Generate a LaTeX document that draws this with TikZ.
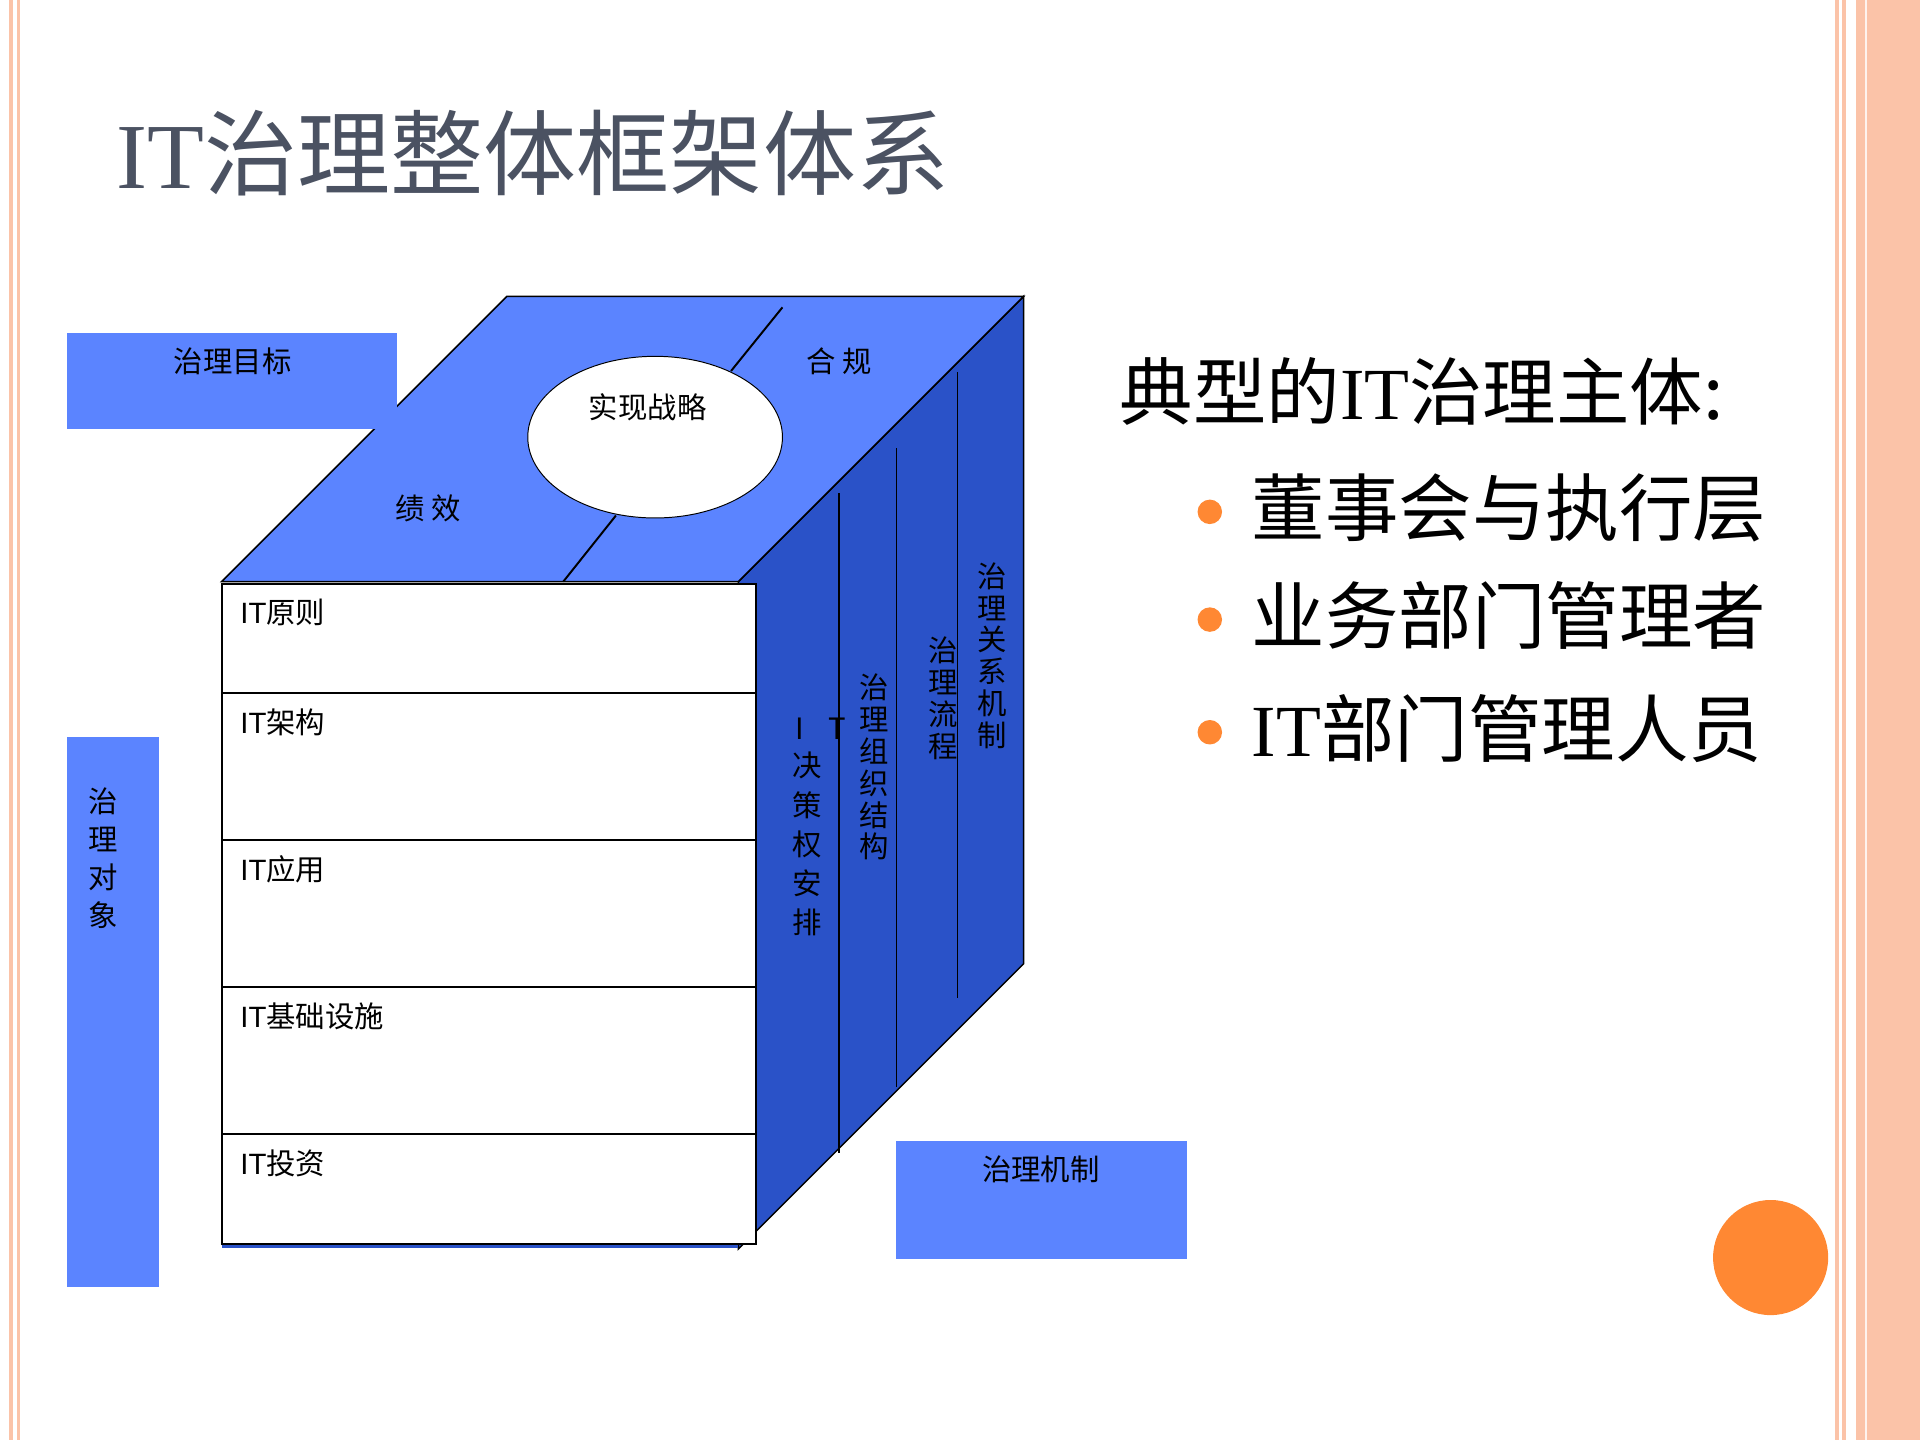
\documentclass[tikz,border=0pt]{standalone}
\usetikzlibrary{shapes.geometric}
\usepackage{fontspec}
\setmainfont{Liberation Serif}
\setsansfont{Liberation Sans}
\newfontfamily\cjk{Noto Sans CJK SC}
\definecolor{topblue}{HTML}{5B84FF}
\definecolor{sideblue}{HTML}{2A52C8}
\definecolor{peach}{HTML}{FBC3A8}
\definecolor{titlegray}{HTML}{4B5262}
\definecolor{orng}{HTML}{FF8833}
\tikzset{lbl/.style={font=\fontsize{12}{14}\selectfont\cjk, inner sep=0pt},
 big/.style={font=\fontsize{30}{34}\selectfont, inner sep=0pt, anchor=west},
 vtx/.style={font=\fontsize{12}{13}\selectfont\cjk, inner sep=0pt, align=center}}
\begin{document}
\begin{tikzpicture}[x=0.5pt,y=-0.5pt]
\useasboundingbox (0,0) rectangle (1568,1176);
\fill[white] (0,0) rectangle (1568,1176);
% borders
\draw[peach,line width=1.5pt] (9,0)--(9,1176) (15,0)--(15,1176);
\draw[peach,line width=1.5pt] (1500,0)--(1500,1176) (1506,0)--(1506,1176);
\fill[peach] (1516,0) rectangle (1568,1176);
\draw[white!80!peach,line width=1pt] (1524,0)--(1524,1176);
% title
\node[anchor=west,inner sep=0pt,text=titlegray,font=\fontsize{38}{40}\selectfont] (title) at (95,125) {IT{\cjk 治理整体框架体系}};
% cube
\fill[sideblue,draw=black,line width=0.6pt] (603,475)--(836,242)--(836,787)--(603,1020)--cycle;
\fill[topblue,draw=black,line width=0.6pt] (181,475)--(414,242)--(836,242)--(603,475)--cycle;
\draw[line width=0.8pt] (460,475)--(503,421) (597,303)--(639,251);
\node[ellipse,draw=black,fill=white,minimum width=104pt,minimum height=66pt,inner sep=0pt] (el) at (535,357) {};
\node[lbl] (s1) at (529,333) {实现战略};
\node[lbl] (s2) at (685,295) {合 规};
\node[lbl] (s3) at (350,415) {绩 效};
\draw[line width=0.6pt] (685,403)--(685,942) (732,366)--(732,888) (782,304)--(782,815);
\fill[white,draw=black,line width=0.8pt] (181,477) rectangle (617,1016);
\draw[sideblue,line width=1.2pt] (181,1018)--(603,1018);
\foreach \y in {566,686,806,926} \draw[line width=0.7pt] (181,\y)--(617,\y);
\foreach \t/\y/\n in {原则/500/r1,架构/590/r2,应用/710/r3,基础设施/830/r4,投资/950/r5}
  \node[anchor=west,inner sep=0pt,font=\fontsize{12}{14}\selectfont] (\n) at (196,\y) {\sffamily IT\cjk\t};
% vertical texts on side
\node[vtx] (va) at (653,595) {I};
\node[vtx] (vb) at (684,595) {T};
\node[vtx,anchor=north] (v1) at (659,614) {决\\[3pt]策\\[3pt]权\\[3pt]安\\[3pt]排};
\node[vtx,anchor=north] (v2) at (714,550) {治\\理\\组\\织\\结\\构};
\node[vtx,anchor=north] (v3) at (770,520) {治\\理\\流\\程};
\node[vtx,anchor=north] (v4) at (810,459) {治\\理\\关\\系\\机\\制};
% side boxes
\fill[topblue] (55,272) rectangle (324,350);
\node[lbl] (g1) at (190,295) {治理目标};
\fill[topblue] (55,602) rectangle (130,1051);
\node[vtx,anchor=north,font=\fontsize{12}{15.5}\selectfont\cjk] (g2) at (84,643) {治\\理\\对\\象};
\fill[topblue] (732,932) rectangle (969,1028);
\node[lbl] (g3) at (850,955) {治理机制};
% right text
\node[big] (h) at (914,320) {\cjk 典型的\rmfamily IT\cjk 治理主体:};
\foreach \y/\t/\n in {415/{\cjk 董事会与执行层}/b1, 503/{\cjk 业务部门管理者}/b2, 595/{IT\cjk 部门管理人员}/b3}{
  \fill[orng] (988,\y+3) circle (10);
  \node[big] (\n) at (1022,\y) {\t};
}
\fill[orng] (1446,1027) circle (47);
\end{tikzpicture}
\end{document}
